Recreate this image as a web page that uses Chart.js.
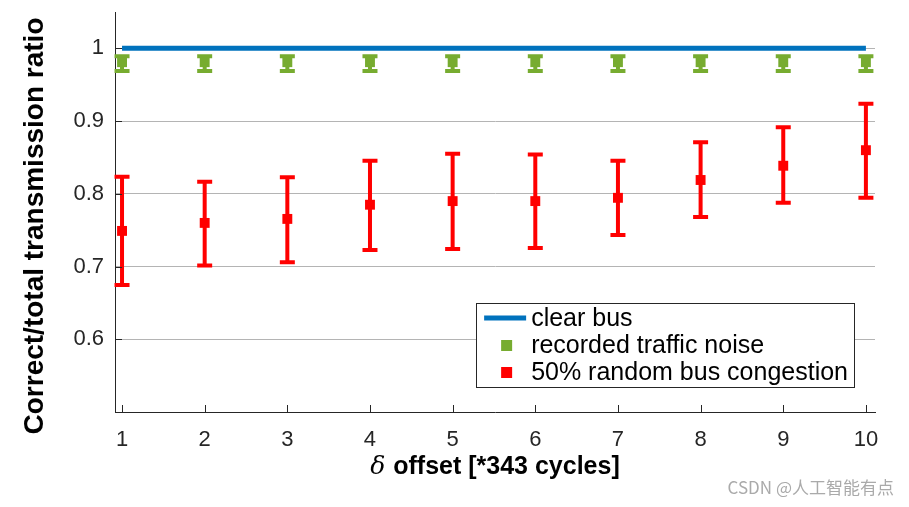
<!DOCTYPE html>
<html>
<head>
<meta charset="utf-8">
<script src="https://cdn.jsdelivr.net/npm/chart.js@4.4.0/dist/chart.umd.min.js"></script>
<style>
  html, body { margin: 0; padding: 0; background: #fff; }
</style>
</head>
<body>
<canvas id="chart" width="909" height="507"></canvas>
<script>
// values
const offsets = [1, 2, 3, 4, 5, 6, 7, 8, 9, 10]
const clearBus = [1, 1, 1, 1, 1, 1, 1, 1, 1, 1]
const noiseMean = [0.981, 0.981, 0.981, 0.981, 0.981, 0.981, 0.981, 0.981, 0.981, 0.981]
const noiseLow = [0.969, 0.969, 0.969, 0.969, 0.969, 0.969, 0.969, 0.969, 0.969, 0.969]
const noiseHigh = [0.989, 0.989, 0.989, 0.989, 0.989, 0.989, 0.989, 0.989, 0.989, 0.989]
const congestionMean = [0.749, 0.760, 0.7655, 0.785, 0.790, 0.790, 0.7945, 0.819, 0.8386, 0.860]
const congestionLow = [0.6745, 0.7014, 0.706, 0.7228, 0.724, 0.7255, 0.7434, 0.768, 0.7876, 0.7945]
const congestionHigh = [0.8234, 0.8166, 0.8228, 0.8455, 0.855, 0.854, 0.8455, 0.871, 0.8917, 0.924]
const yTicks = [0.6, 0.7, 0.8, 0.9, 1]
const legendLabels = ["clear bus", "recorded traffic noise", "50% random bus congestion"]

const BLUE = "#0072BD"
const GREEN = "#77AC30"
const RED = "#FF0000"
const AXIS = "#262626"
const FONT = "'Liberation Sans', Arial, Helvetica, sans-serif"

const toPoints = (ys) => offsets.map((x, i) => ({ x: x, y: ys[i] }))

// error bars drawn under the square markers
const errorBars = {
    id: "errorBars",
    beforeDatasetsDraw(chart) {
        const { ctx, scales: { x, y } } = chart
        chart.data.datasets.forEach(ds => {
            if (!ds.errLow) return
            ctx.save()
            ctx.strokeStyle = ds.backgroundColor
            ctx.lineWidth = 4
            ctx.lineCap = "butt"
            offsets.forEach((v, i) => {
                const px = x.getPixelForValue(v)
                const lo = y.getPixelForValue(ds.errLow[i])
                const hi = y.getPixelForValue(ds.errHigh[i])
                ctx.beginPath()
                ctx.moveTo(px, lo)
                ctx.lineTo(px, hi)
                ctx.moveTo(px - 7.5, lo)
                ctx.lineTo(px + 7.5, lo)
                ctx.moveTo(px - 7.5, hi)
                ctx.lineTo(px + 7.5, hi)
                ctx.stroke()
            })
            ctx.restore()
        })
    }
}

// inward tick marks, titles, legend box and watermark
const decorations = {
    id: "decorations",
    afterDraw(chart) {
        const { ctx, chartArea: area, scales: { x, y } } = chart
        ctx.save()
        ctx.strokeStyle = AXIS
        ctx.lineWidth = 1
        ctx.beginPath()
        offsets.forEach(v => {
            const px = Math.round(x.getPixelForValue(v)) + 0.5
            ctx.moveTo(px, area.bottom)
            ctx.lineTo(px, area.bottom - 7)
        })
        yTicks.forEach(v => {
            const py = Math.round(y.getPixelForValue(v)) + 0.5
            ctx.moveTo(area.left, py)
            ctx.lineTo(area.left + 7, py)
        })
        ctx.stroke()

        // y title
        ctx.fillStyle = "#000"
        ctx.font = "bold 28px " + FONT
        ctx.textAlign = "center"
        ctx.textBaseline = "middle"
        ctx.save()
        ctx.translate(35, 226)
        ctx.rotate(-Math.PI / 2)
        ctx.fillText("Correct/total transmission ratio", 0, 0)
        ctx.restore()

        // x title with italic delta
        const delta = "δ "
        const rest = "offset [*343 cycles]"
        ctx.font = "italic 25px 'DejaVu Serif', serif"
        const wd = ctx.measureText(delta).width
        ctx.font = "bold 25px " + FONT
        const wr = ctx.measureText(rest).width
        let tx = 495 - (wd + wr) / 2
        ctx.textAlign = "left"
        ctx.textBaseline = "middle"
        ctx.font = "italic 25px 'DejaVu Serif', serif"
        ctx.fillText(delta, tx, 467)
        ctx.font = "bold 25px " + FONT
        ctx.fillText(rest, tx + wd, 467)

        // legend
        ctx.font = "25px " + FONT
        const maxW = Math.max(...legendLabels.map(t => ctx.measureText(t).width))
        const right = area.right - 21
        const bottom = area.bottom - 25
        const left = right - (55 + maxW + 6)
        const top = bottom - 84
        ctx.fillStyle = "#fff"
        ctx.fillRect(left, top, right - left, bottom - top)
        ctx.strokeStyle = AXIS
        ctx.lineWidth = 1
        ctx.strokeRect(Math.round(left) + 0.5, Math.round(top) + 0.5, Math.round(right - left), Math.round(bottom - top))
        const rowY = [top + 15, top + 42, top + 69]
        ctx.strokeStyle = BLUE
        ctx.lineWidth = 5
        ctx.beginPath()
        ctx.moveTo(left + 8, rowY[0])
        ctx.lineTo(left + 50, rowY[0])
        ctx.stroke()
        ctx.fillStyle = GREEN
        ctx.fillRect(left + 25, rowY[1] - 5, 11, 11)
        ctx.fillStyle = RED
        ctx.fillRect(left + 25, rowY[2] - 5, 11, 11)
        ctx.fillStyle = "#000"
        ctx.textAlign = "left"
        ctx.textBaseline = "middle"
        legendLabels.forEach((t, i) => ctx.fillText(t, left + 55, rowY[i] + 1))

        // watermark
        ctx.fillStyle = "#aaaaaa"
        ctx.font = "17px 'Noto Sans CJK SC', " + FONT
        ctx.textAlign = "right"
        ctx.textBaseline = "middle"
        ctx.fillText("CSDN @人工智能有点", 894, 488)
        ctx.restore()
    }
}

new Chart(document.getElementById("chart").getContext("2d"), {
    type: "scatter",
    data: {
        datasets: [
            {
                type: "line",
                label: legendLabels[0],
                data: toPoints(clearBus),
                borderColor: BLUE,
                borderWidth: 5,
                pointRadius: 0,
                fill: false
            },
            {
                label: legendLabels[1],
                data: toPoints(noiseMean),
                errLow: noiseLow,
                errHigh: noiseHigh,
                backgroundColor: GREEN,
                borderWidth: 0,
                pointStyle: "rect",
                pointRadius: 7
            },
            {
                label: legendLabels[2],
                data: toPoints(congestionMean),
                errLow: congestionLow,
                errHigh: congestionHigh,
                backgroundColor: RED,
                borderWidth: 0,
                pointStyle: "rect",
                pointRadius: 7
            }
        ]
    },
    options: {
        responsive: false,
        animation: false,
        devicePixelRatio: 1,
        layout: { padding: { top: 12, right: 34, left: 0, bottom: 0 } },
        plugins: {
            legend: { display: false },
            tooltip: { enabled: false }
        },
        scales: {
            x: {
                type: "linear",
                min: 0.915,
                max: 10.11,
                afterBuildTicks: s => { s.ticks = offsets.map(v => ({ value: v })) },
                afterFit: s => { s.height = 95; s.paddingLeft = 0; s.paddingRight = 0 },
                grid: { display: false },
                border: { color: AXIS, width: 1 },
                ticks: { color: AXIS, padding: 7, font: { family: FONT, size: 22 } }
            },
            y: {
                min: 0.5,
                max: 1.05,
                afterBuildTicks: s => { s.ticks = yTicks.map(v => ({ value: v })) },
                afterFit: s => { s.width = 115; s.paddingTop = 0; s.paddingBottom = 0 },
                grid: { color: "#b4b4b4", lineWidth: 1, drawTicks: false },
                border: { color: AXIS, width: 1 },
                ticks: {
                    color: AXIS,
                    padding: 11,
                    font: { family: FONT, size: 22 },
                    callback: v => (v === 1 ? "1" : v.toFixed(1))
                }
            }
        }
    },
    plugins: [errorBars, decorations]
})
</script>
</body>
</html>
